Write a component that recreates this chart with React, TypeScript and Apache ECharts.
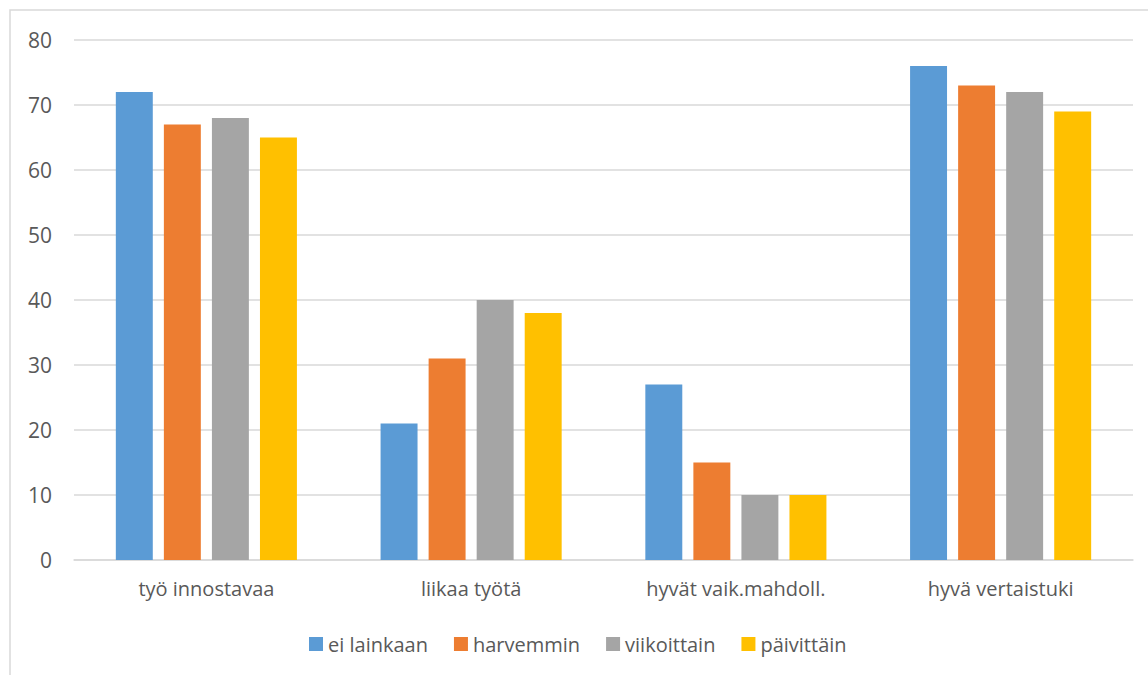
import React, { useEffect, useRef } from "react";
import * as echarts from "echarts";

const categories = ["työ innostavaa", "liikaa työtä", "hyvät vaik.mahdoll.", "hyvä vertaistuki"];
const seriesNames = ["ei lainkaan", "harvemmin", "viikoittain", "päivittäin"];
const eiLainkaan = [72, 21, 27, 76];
const harvemmin = [67, 31, 15, 73];
const viikoittain = [68, 40, 10, 72];
const paivittain = [65, 38, 10, 69];
const yTicks = [0, 10, 20, 30, 40, 50, 60, 70, 80];
const colors = ["#5B9BD5", "#ED7D31", "#A5A5A5", "#FFC000"];

export default function App() {
  const ref = useRef<HTMLDivElement>(null);
  useEffect(() => {
    document.body.style.margin = "0";
    const chart = echarts.init(ref.current!, null, { renderer: "svg" });
    const values = [eiLainkaan, harvemmin, viikoittain, paivittain];
    const font = "Open Sans";
    chart.setOption({
      animation: false,
      color: colors,
      graphic: [
        {
          type: "rect",
          shape: { x: 10, y: 10, width: 1300, height: 800 },
          style: { fill: "none", stroke: "#D9D9D9", lineWidth: 1.5 },
          silent: true,
        },
      ],
      grid: { left: 74, right: 15, top: 40, bottom: 115 },
      legend: {
        data: seriesNames,
        top: 629,
        left: 304,
        itemWidth: 14,
        itemHeight: 14,
        itemGap: 26,
        icon: "rect",
        textStyle: { color: "#595959", fontSize: 20, fontFamily: font },
      },
      xAxis: {
        type: "category",
        data: categories,
        axisLine: { lineStyle: { color: "#D9D9D9", width: 1.5 } },
        axisTick: { show: false },
        axisLabel: { color: "#595959", fontSize: 20, margin: 18, fontFamily: font },
      },
      yAxis: {
        type: "value",
        min: yTicks[0],
        max: yTicks[yTicks.length - 1],
        interval: 10,
        axisLine: { show: false },
        axisTick: { show: false },
        splitLine: { lineStyle: { color: "#D9D9D9", width: 1.5 } },
        axisLabel: { color: "#595959", fontSize: 21, margin: 22, fontFamily: font },
      },
      series: seriesNames.map((name, i) => ({
        name,
        type: "bar",
        data: values[i],
        barGap: "30%",
        barCategoryGap: "31.6%",
      })),
    });
    return () => chart.dispose();
  }, []);
  return <div ref={ref} style={{ width: 1148, height: 675 }} />;
}
